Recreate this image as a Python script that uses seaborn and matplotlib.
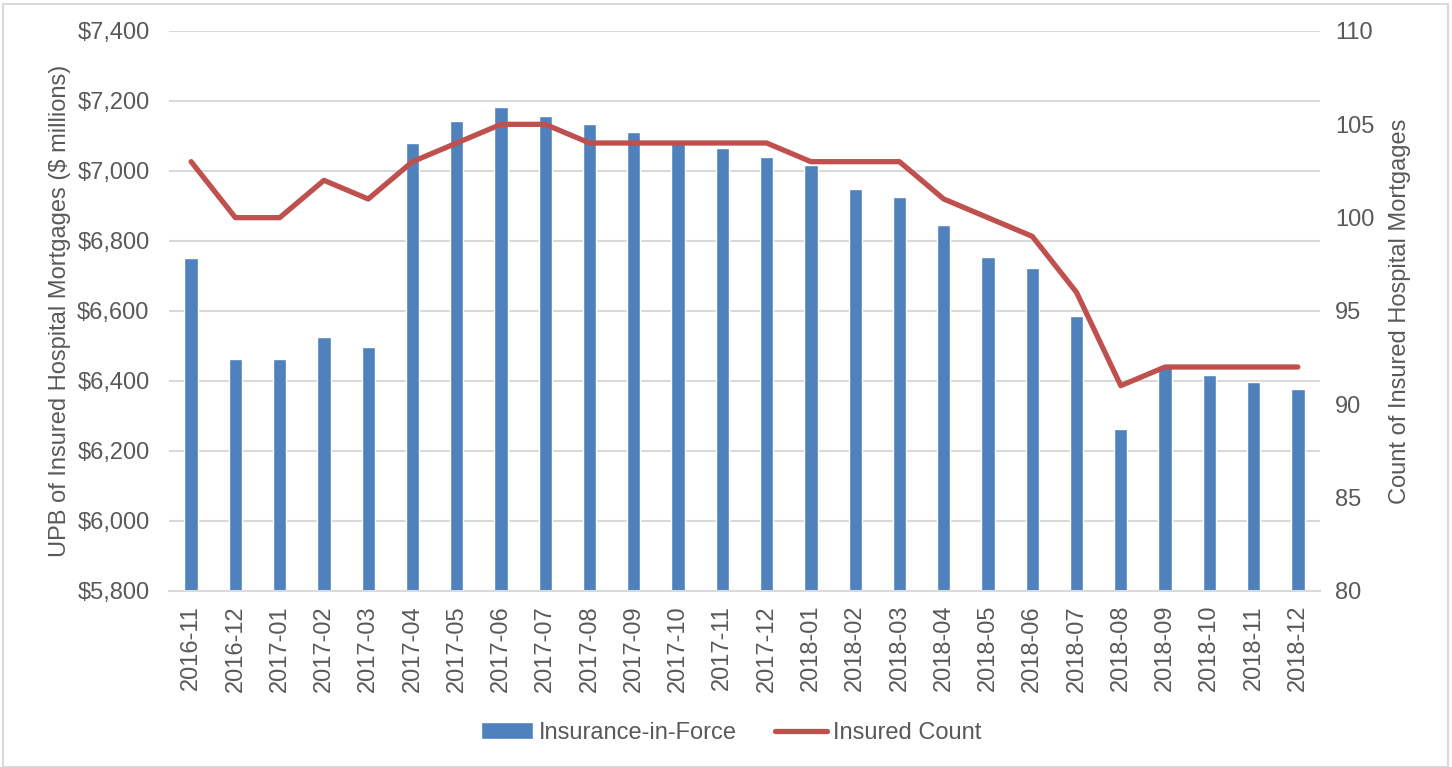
import numpy as np
import pandas as pd
import matplotlib
matplotlib.use("Agg")
import matplotlib.pyplot as plt
import seaborn as sns
from matplotlib.ticker import FuncFormatter, MultipleLocator, FixedLocator
from matplotlib.patches import Rectangle

# data
months = ['2016-11', '2016-12', '2017-01', '2017-02', '2017-03', '2017-04', '2017-05',
          '2017-06', '2017-07', '2017-08', '2017-09', '2017-10', '2017-11', '2017-12',
          '2018-01', '2018-02', '2018-03', '2018-04', '2018-05', '2018-06', '2018-07',
          '2018-08', '2018-09', '2018-10', '2018-11', '2018-12']
upb = [6751, 6462, 6462, 6526, 6497, 7080, 7143, 7183, 7157, 7134, 7111, 7089, 7066,
       7040, 7017, 6949, 6926, 6846, 6754, 6723, 6586, 6263, 6440, 6417, 6397, 6377]
counts = [103, 100, 100, 102, 101, 103, 104, 105, 105, 104, 104, 104, 104,
          104, 103, 103, 103, 101, 100, 99, 96, 91, 92, 92, 92, 92]

df = pd.DataFrame({'month': months, 'upb': upb, 'count': counts})
df['pos'] = np.arange(len(df))

sns.set_style('white')
plt.rcParams['font.family'] = ['Liberation Sans', 'DejaVu Sans']

grey = '#595959'
blue = '#4F81BD'
red = '#C0504D'

fig = plt.figure(figsize=(14.52, 7.67), dpi=100)
ax = fig.add_axes([169 / 1452, 1 - 591 / 767, (1320 - 169) / 1452, 560 / 767])

sns.barplot(data=df, x='month', y='upb', color=blue, saturation=1, width=0.3,
            ax=ax, label='Insurance-in-Force', zorder=2)
ax.set_xlim(-0.5, len(months) - 0.5)
ax.set_ylim(5800, 7400)
ax.yaxis.set_major_locator(MultipleLocator(200))
ax.yaxis.set_major_formatter(FuncFormatter(lambda v, p: f'${v:,.0f}'))
ax.grid(axis='y', color='#D9D9D9', linewidth=1.5)
ax.set_axisbelow(True)
for s in ['left', 'right', 'top']:
    ax.spines[s].set_visible(False)
ax.spines['bottom'].set_color('#D9D9D9')
ax.spines['bottom'].set_linewidth(1.5)

ax.set_xticks(np.arange(len(months)))
ax.set_xticklabels(months, rotation=90)
ax.xaxis.set_minor_locator(FixedLocator(np.arange(len(months) + 1) - 0.5))
ax.tick_params(axis='x', which='major', length=0, pad=10, labelsize=17, labelcolor=grey)
ax.tick_params(axis='x', which='minor', length=7, width=1.5, color='#D9D9D9', direction='out')
ax.tick_params(axis='y', length=0, pad=14, labelsize=17, labelcolor=grey)
ax.set_xlabel('')
ax.set_ylabel('UPB of Insured Hospital Mortgages ($ millions)', fontsize=17, color=grey)
ax.yaxis.label.set(ha='center', va='center')
ax.yaxis.set_label_coords((60 - 169) / 1151, 0.5)

ax2 = ax.twinx()
sns.lineplot(data=df, x='pos', y='count', color=red, linewidth=3.8, ax=ax2,
             label='Insured Count', solid_capstyle='round', zorder=3)
ax2.set_ylim(80, 110)
ax2.yaxis.set_major_locator(MultipleLocator(5))
for s in ['left', 'right', 'top', 'bottom']:
    ax2.spines[s].set_visible(False)
ax2.tick_params(axis='y', length=0, pad=11, labelsize=17, labelcolor=grey)
ax2.set_ylabel('Count of Insured Hospital Mortgages', fontsize=17, color=grey)
ax2.yaxis.label.set(ha='center', va='center')
ax2.yaxis.set_label_coords((1400 - 169) / 1151, 0.5)

h1, l1 = ax.get_legend_handles_labels()
h2, l2 = ax2.get_legend_handles_labels()
if ax.get_legend():
    ax.get_legend().remove()
if ax2.get_legend():
    ax2.get_legend().remove()
fig.legend(h1 + h2, l1 + l2, loc='center', bbox_to_anchor=(731 / 1452, 1 - 733 / 767),
           ncol=2, frameon=False, fontsize=17, labelcolor=grey, handlelength=2.2,
           handletextpad=0.25, columnspacing=1.6)

# light frame around the chart
fig.patches.append(Rectangle((3 / 1452, 0), 1445 / 1452, 1 - 4 / 767, transform=fig.transFigure,
                             fill=False, edgecolor='#D9D9D9', linewidth=1.5))

fig.savefig('out.png', dpi=100)
